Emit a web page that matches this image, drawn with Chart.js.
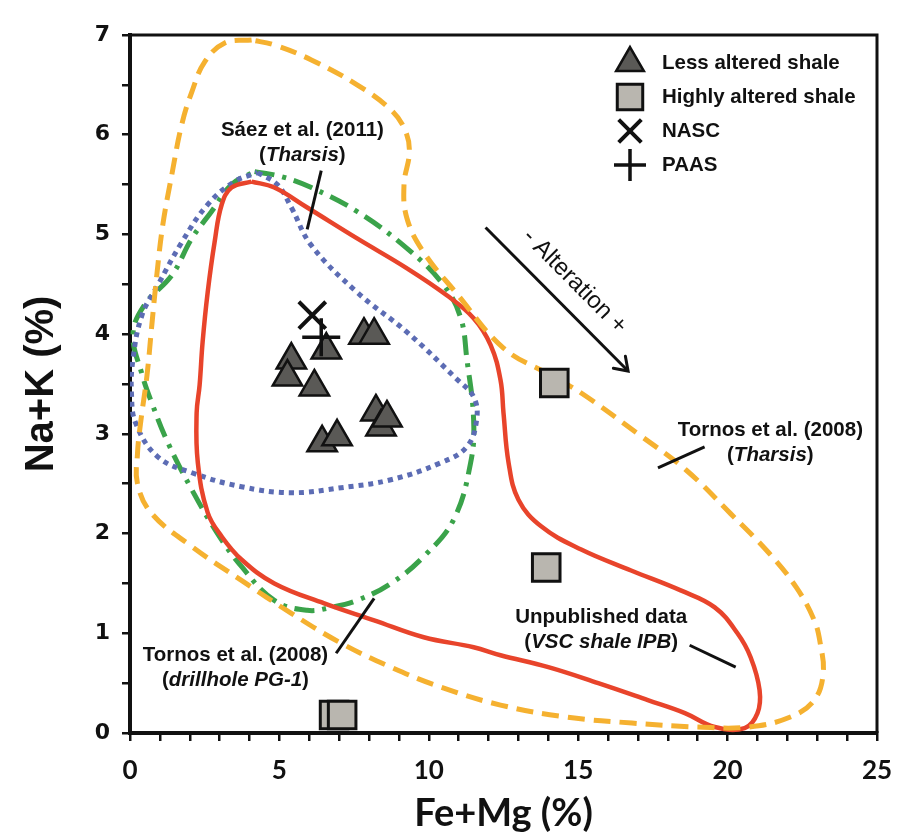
<!DOCTYPE html>
<html>
<head>
<meta charset="utf-8">
<script src="https://cdn.jsdelivr.net/npm/chart.js@4.4.1/dist/chart.umd.min.js"></script>
<style>
  html, body { margin: 0; padding: 0; background: #fff; }
  #wrap { width: 900px; height: 839px; }
</style>
</head>
<body>
<div id="wrap"><canvas id="plot" width="900" height="839"></canvas></div>
<script>
// Shale samples, Fe+Mg (%) vs Na+K (%)
const lessAltered = [[5.4, 3.74], [5.27, 3.57], [6.17, 3.47], [6.57, 3.84], [7.83, 3.99], [8.17, 3.99],
  [8.23, 3.22], [8.4, 3.07], [8.6, 3.16], [6.43, 2.91], [6.93, 2.97]];
const highlyAltered = [[14.2, 3.51], [13.93, 1.66], [6.83, 0.18], [7.1, 0.18]];
const nasc = [[6.1, 4.19]];
const paas = [[6.4, 3.97]];

// Reference fields (closed outlines)
const tornosTharsis = [[4.07, 6.95], [3.17, 6.92], [2.5, 6.73], [2.07, 6.43], [1.73, 6.1], [1.4, 5.6], [1.1, 5.1],
  [0.9, 4.6], [0.73, 4.09], [0.57, 3.59], [0.35, 3.1], [0.25, 2.8], [0.25, 2.5], [0.73, 2.2], [2.07, 1.87],
  [3.73, 1.53], [5.4, 1.2], [7.07, 0.9], [8.73, 0.66], [10.4, 0.46], [12.4, 0.28], [14.6, 0.16], [16.8, 0.1],
  [19, 0.06], [20.7, 0.06], [22.1, 0.16], [22.9, 0.33], [23.2, 0.6], [23.1, 0.9], [22.9, 1.13], [22.3, 1.46],
  [21.4, 1.8], [20.1, 2.2], [18.6, 2.64], [17, 3.0], [15.1, 3.41], [14, 3.6], [12.5, 3.86], [10.9, 4.42],
  [9.83, 4.82], [9.27, 5.16], [9.17, 5.5], [9.35, 5.83], [9.2, 6.05], [8.73, 6.25], [7.6, 6.5], [6.07, 6.75],
  [4.83, 6.9], [4.07, 6.95]];
const vscShale = [[4.07, 5.53], [4.83, 5.47], [5.93, 5.27], [7.6, 4.96], [9.27, 4.66], [10.6, 4.39], [11.5, 4.16],
  [12.07, 3.89], [12.4, 3.54], [12.5, 3.21], [12.67, 2.71], [13, 2.34], [13.77, 2.07], [15.1, 1.84], [16.77, 1.63],
  [18.43, 1.43], [19.57, 1.26], [20.33, 1.0], [20.77, 0.76], [21.07, 0.43], [21, 0.2], [20.57, 0.05], [19.57, 0.06],
  [18.57, 0.2], [17.33, 0.33], [15.67, 0.5], [14, 0.66], [12.4, 0.78], [11.5, 0.86], [9.83, 0.96], [8.17, 1.13],
  [6.5, 1.3], [4.83, 1.5], [3.73, 1.74], [3.07, 1.97], [2.6, 2.21], [2.27, 2.71], [2.23, 3.21], [2.33, 3.49],
  [2.43, 3.92], [2.6, 4.42], [2.83, 4.92], [3.07, 5.3], [3.4, 5.47], [4.07, 5.53]];
const saezTharsis = [[4.27, 5.62], [4.93, 5.5], [5.4, 5.27], [6.07, 4.89], [7.6, 4.42], [9.27, 4.02], [10.93, 3.55],
  [11.5, 3.37], [11.6, 3.14], [11.27, 2.87], [10.4, 2.71], [8.73, 2.54], [7.07, 2.46], [5.4, 2.41], [3.73, 2.47],
  [2.07, 2.61], [0.93, 2.77], [0.2, 3.1], [0.05, 3.4], [0.1, 3.75], [0.4, 4.19], [0.93, 4.49], [1.73, 4.92],
  [2.6, 5.3], [3.5, 5.53], [4.27, 5.62]];
const drillholePG1 = [[4.17, 5.63], [5.07, 5.58], [6.07, 5.47], [7.6, 5.23], [9.27, 4.86], [10.5, 4.49], [11.07, 4.16],
  [11.27, 3.76], [11.5, 3.14], [11.4, 2.71], [10.83, 2.14], [9.83, 1.77], [8.73, 1.5], [7.6, 1.33], [6.73, 1.26],
  [5.93, 1.23], [4.83, 1.33], [3.73, 1.67], [2.93, 2.0], [2.07, 2.44], [1.27, 2.91], [0.73, 3.31], [0.4, 3.6],
  [0.1, 4.0], [0.5, 4.3], [1.4, 4.59], [2.07, 4.96], [2.73, 5.23], [3.4, 5.5], [4.17, 5.63]];

// Leader lines and the alteration arrow
const saezLeader = [[6.4, 5.64], [5.93, 5.05]];
const tornosLeader = [[19.23, 2.87], [17.67, 2.66]];
const vscLeader = [[18.73, 0.88], [20.27, 0.66]];
const drillholeLeader = [[6.9, 0.8], [8.17, 1.35]];
const alterationArrow = [[11.9, 5.07], [16.67, 3.63]];

const xTicks = [0, 5, 10, 15, 20, 25];
const yTicks = [0, 1, 2, 3, 4, 5, 6, 7];

// Field labels: [text, italic] pieces per line, anchored at a data position
const notes = [
  { at: [5.77, 6.04], lines: [[['Sáez et al. (2011)', false]], [['(', false], ['Tharsis', true], [')', false]]] },
  { at: [21.43, 3.04], lines: [[['Tornos et al. (2008)', false]], [['(', false], ['Tharsis', true], [')', false]]] },
  { at: [15.77, 1.16], lines: [[['Unpublished data', false]], [['(', false], ['VSC shale IPB', true], [')', false]]] },
  { at: [3.53, 0.78], lines: [[['Tornos et al. (2008)', false]], [['(', false], ['drillhole PG-1', true], [')', false]]] }
];

const toXY = pts => pts.map(([x, y]) => ({ x, y }));

function outline(label, pts, color, width, dash) {
  return {
    label, data: toXY(pts), showLine: true, borderColor: color, borderWidth: width,
    borderDash: dash, borderCapStyle: 'butt', pointRadius: 0, tension: 0.4, fill: false, order: 5
  };
}

function segment(label, pts, width) {
  return {
    label, data: toXY(pts), showLine: true, borderColor: '#111', borderWidth: width,
    pointRadius: 0, tension: 0, fill: false, order: 4
  };
}

const markerSets = [
  { label: 'Less altered shale', data: toXY(lessAltered), pointStyle: 'triangle', pointRadius: 17,
    backgroundColor: '#5a5956', borderColor: '#111', borderWidth: 2.5, order: 1, clip: false },
  { label: 'Highly altered shale', data: toXY(highlyAltered), pointStyle: 'rect', pointRadius: 19.5,
    backgroundColor: '#b9b6af', borderColor: '#111', borderWidth: 3, order: 1, clip: false },
  { label: 'NASC', data: toXY(nasc), pointStyle: 'crossRot', pointRadius: 19,
    backgroundColor: '#111', borderColor: '#111', borderWidth: 4, order: 0, clip: false },
  { label: 'PAAS', data: toXY(paas), pointStyle: 'cross', pointRadius: 19,
    backgroundColor: '#111', borderColor: '#111', borderWidth: 3.5, order: 0, clip: false }
];

// Top and right edges of the plot box
const boxFrame = {
  id: 'boxFrame',
  afterDraw(chart) {
    const { ctx, chartArea: a } = chart;
    ctx.save();
    ctx.strokeStyle = '#111';
    ctx.lineWidth = 3;
    ctx.beginPath();
    ctx.moveTo(a.left, a.top);
    ctx.lineTo(a.right, a.top);
    ctx.lineTo(a.right, a.bottom);
    ctx.stroke();
    ctx.restore();
  }
};

// Field names, arrow head and the "Alteration" caption
const fieldNotes = {
  id: 'fieldNotes',
  afterDatasetsDraw(chart) {
    const { ctx, scales: { x, y } } = chart;
    ctx.save();
    ctx.fillStyle = '#111';
    ctx.textBaseline = 'middle';
    notes.forEach(n => {
      const cx = x.getPixelForValue(n.at[0]);
      let cy = y.getPixelForValue(n.at[1]);
      n.lines.forEach(parts => {
        const fonts = parts.map(p => (p[1] ? 'italic bold 20.5px "Liberation Sans"' : 'bold 20.5px "Liberation Sans"'));
        let total = 0;
        parts.forEach((p, i) => { ctx.font = fonts[i]; total += ctx.measureText(p[0]).width; });
        let px = cx - total / 2;
        ctx.textAlign = 'left';
        parts.forEach((p, i) => {
          ctx.font = fonts[i];
          ctx.fillText(p[0], px, cy);
          px += ctx.measureText(p[0]).width;
        });
        cy += 25;
      });
    });

    // arrow head
    const x0 = x.getPixelForValue(alterationArrow[0][0]), y0 = y.getPixelForValue(alterationArrow[0][1]);
    const x1 = x.getPixelForValue(alterationArrow[1][0]), y1 = y.getPixelForValue(alterationArrow[1][1]);
    const ang = Math.atan2(y1 - y0, x1 - x0);
    ctx.strokeStyle = '#111';
    ctx.lineWidth = 3;
    ctx.lineCap = 'round';
    ctx.beginPath();
    ctx.moveTo(x1 - 15 * Math.cos(ang - 0.6), y1 - 15 * Math.sin(ang - 0.6));
    ctx.lineTo(x1, y1);
    ctx.lineTo(x1 - 15 * Math.cos(ang + 0.6), y1 - 15 * Math.sin(ang + 0.6));
    ctx.stroke();

    // caption along the arrow
    const mx = (x0 + x1) / 2 + 25 * Math.sin(ang), my = (y0 + y1) / 2 - 25 * Math.cos(ang);
    ctx.translate(mx, my);
    ctx.rotate(ang);
    ctx.font = '24px "Liberation Sans"';
    ctx.textAlign = 'center';
    ctx.fillText('- Alteration +', 0, 0);
    ctx.restore();
  }
};

// Symbol key in the upper right corner
const symbolKey = {
  id: 'symbolKey',
  afterDraw(chart) {
    const { ctx, chartArea: a } = chart;
    const mx = a.right - 247, tx = a.right - 215;
    ctx.save();
    ctx.textBaseline = 'middle';
    ctx.textAlign = 'left';
    ctx.font = 'bold 20.5px "Liberation Sans"';
    markerSets.forEach((ds, i) => {
      const cy = a.top + 28 + i * 34;
      ctx.fillStyle = ds.backgroundColor;
      ctx.strokeStyle = ds.borderColor;
      ctx.lineWidth = ds.borderWidth;
      const r = ds.pointStyle === 'rect' ? 18 : 16;
      Chart.helpers.drawPoint(ctx, { pointStyle: ds.pointStyle, radius: r, rotation: 0, borderWidth: ds.borderWidth }, mx, cy);
      ctx.fillStyle = '#111';
      ctx.fillText(ds.label, tx, cy);
    });
    ctx.restore();
  }
};

new Chart(document.getElementById('plot'), {
  type: 'scatter',
  data: {
    datasets: [
      ...markerSets,
      outline('Tornos et al. (2008) Tharsis', tornosTharsis, '#f5b130', 5, [17, 9]),
      outline('Unpublished data', vscShale, '#e8442b', 4.5, []),
      outline('Sáez et al. (2011)', saezTharsis, '#5c6cb4', 5, [5, 5]),
      outline('Tornos et al. (2008) PG-1', drillholePG1, '#3aa34a', 5, [20, 8, 4, 8]),
      segment('saez leader', saezLeader, 3),
      segment('tornos leader', tornosLeader, 3),
      segment('vsc leader', vscLeader, 3),
      segment('drillhole leader', drillholeLeader, 3),
      segment('alteration', alterationArrow, 3)
    ]
  },
  options: {
    responsive: false,
    animation: false,
    layout: { padding: { top: 35, right: 0, left: 0, bottom: 0 } },
    plugins: { legend: { display: false }, tooltip: { enabled: false } },
    scales: {
      x: {
        type: 'linear', min: 0, max: 25,
        afterFit: s => { s.height = 106; s.paddingRight = 20; s.paddingLeft = 0; },
        ticks: {
          stepSize: 1, autoSkip: false, maxRotation: 0, padding: 14, color: '#111',
          font: { family: 'Lato', weight: 'bold', size: 26 },
          callback: v => (xTicks.includes(v) ? v : '')
        },
        grid: { drawOnChartArea: false, drawTicks: true, tickLength: 8, color: '#111', lineWidth: 2.5 },
        border: { display: true, color: '#111', width: 4 },
        title: {
          display: true, text: 'Fe+Mg (%)', color: '#111', padding: { top: 0, bottom: 2 },
          font: { family: 'Lato', weight: 'bold', size: 38 }
        }
      },
      y: {
        type: 'linear', min: 0, max: 7,
        afterFit: s => { s.width = 130; s.paddingTop = 0; s.paddingBottom = 0; },
        ticks: {
          stepSize: 0.5, autoSkip: false, padding: 12, color: '#111',
          font: { family: 'DejaVu Sans', weight: 'bold', size: 22 },
          callback: v => (yTicks.includes(v) ? v : '')
        },
        grid: { drawOnChartArea: false, drawTicks: true, tickLength: 8, color: '#111', lineWidth: 2.5 },
        border: { display: true, color: '#111', width: 4 },
        title: {
          display: true, text: 'Na+K (%)', color: '#111', padding: { top: 18, bottom: 0 },
          font: { family: 'Liberation Sans', weight: 'bold', size: 40 }
        }
      }
    }
  },
  plugins: [boxFrame, fieldNotes, symbolKey]
});
</script>
</body>
</html>
